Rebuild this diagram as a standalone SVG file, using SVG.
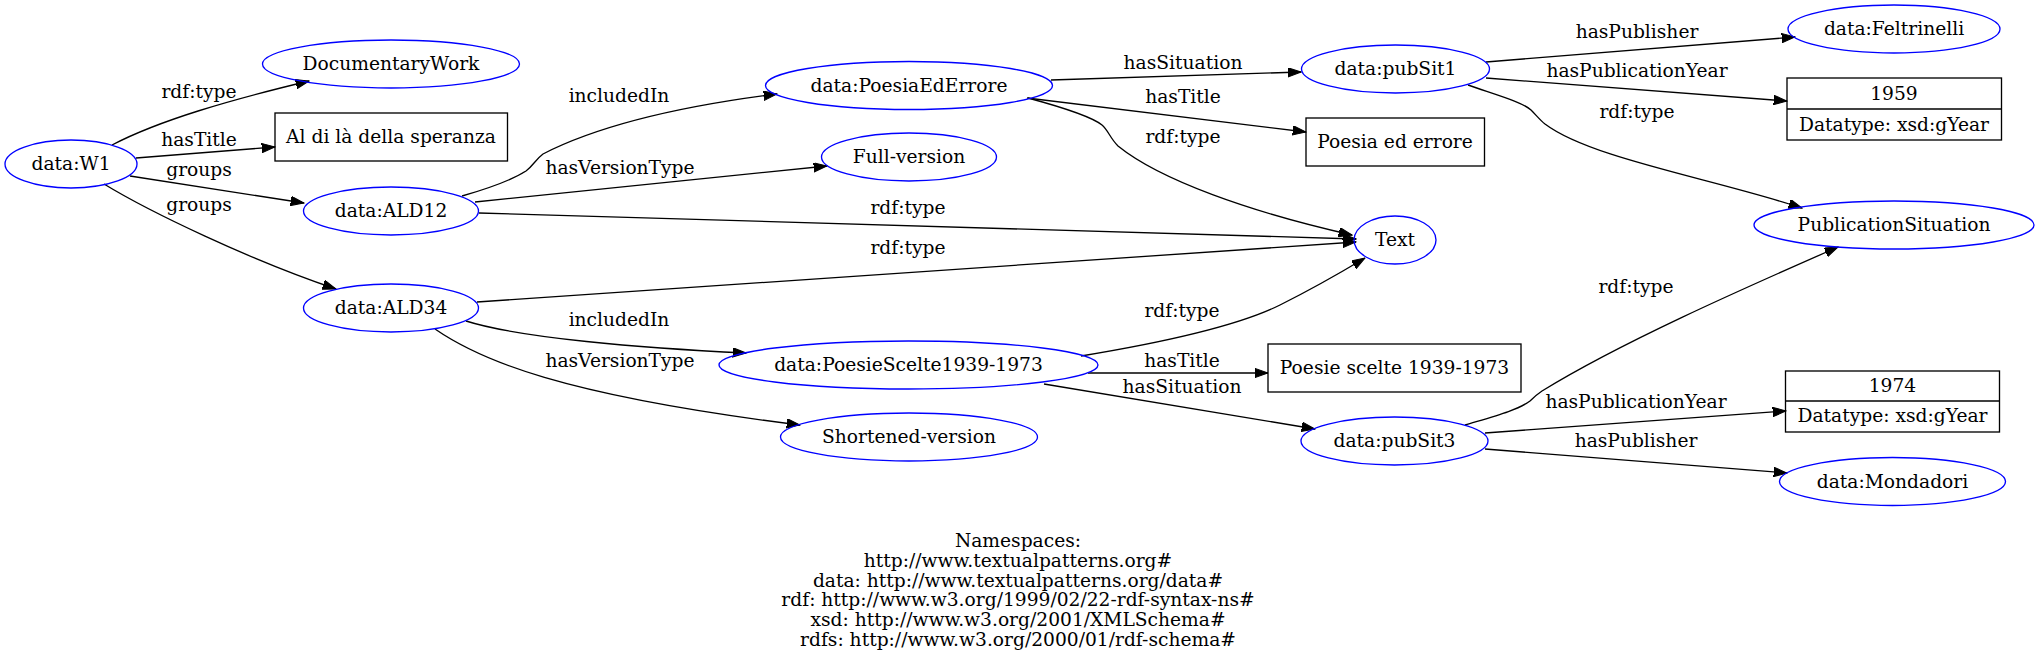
<svg xmlns="http://www.w3.org/2000/svg" width="2038" height="663" viewBox="0 0 2038 663">
<style>
text{font-family:"DejaVu Serif","Liberation Serif",serif;font-size:18.67px;fill:#000;text-anchor:middle}
.n ellipse{fill:none;stroke:#0000ff;stroke-width:1.33}
.n rect,.n line{fill:none;stroke:#000;stroke-width:1.33}
.e path{fill:none;stroke:#000;stroke-width:1.33;marker-end:url(#ah)}
</style>
<defs>
<marker id="ah" markerUnits="userSpaceOnUse" markerWidth="14" markerHeight="10" refX="13.3" refY="4.7" orient="auto">
<path d="M0,0 L13.3,4.7 L0,9.4 z" fill="#000" stroke="#000" stroke-width="1"/>
</marker>
</defs>
<rect width="2038" height="663" fill="#fff"/>
<g id="edges" class="e">
<path d="M112,145 C160,120 230,100 309,81"/>
<path d="M136,158 L275,147"/>
<path d="M130,176 L304,203"/>
<path d="M104,184 C150,212 250,260 336,289"/>
<path d="M462,196 C490,188 515,178 526,171 C533,166 535,160 543,154 C580,135 650,110 777,94"/>
<path d="M475,202 L827,166"/>
<path d="M479,213 L1356,239"/>
<path d="M477,302 L1356,242"/>
<path d="M466,321 C520,338 640,348 746,353"/>
<path d="M435,329 C480,360 560,395 800,425"/>
<path d="M1051,80 L1301,72"/>
<path d="M1027,98 L1306,132"/>
<path d="M1028,98 C1065,108 1092,117 1102,125 C1108,130 1110,138 1118,146 C1160,180 1250,212 1352,235"/>
<path d="M1486,62 L1795,37"/>
<path d="M1486,78 L1787,101"/>
<path d="M1468,85 C1500,96 1522,102 1531,110 C1537,116 1540,120 1545,124 C1590,158 1710,178 1802,208"/>
<path d="M1465,425 C1495,416 1518,410 1530,401 C1534,397 1536,395 1542,391 C1620,343 1740,290 1838,247"/>
<path d="M1485,433 L1786,411"/>
<path d="M1485,449 L1787,473"/>
<path d="M1081,356 C1160,343 1240,325 1280,305 C1320,285 1345,270 1365,258"/>
<path d="M1088,373 L1268,373"/>
<path d="M1044,384 L1315,429"/>
</g>
<g id="edge-labels">
<text x="199" y="98">rdf:type</text>
<text x="199" y="146">hasTitle</text>
<text x="199" y="176">groups</text>
<text x="199" y="211">groups</text>
<text x="619" y="102">includedIn</text>
<text x="620" y="174">hasVersionType</text>
<text x="908" y="214">rdf:type</text>
<text x="908" y="254">rdf:type</text>
<text x="619" y="326">includedIn</text>
<text x="620" y="367">hasVersionType</text>
<text x="1183" y="69">hasSituation</text>
<text x="1183" y="103">hasTitle</text>
<text x="1183" y="143">rdf:type</text>
<text x="1637" y="38">hasPublisher</text>
<text x="1637" y="77">hasPublicationYear</text>
<text x="1637" y="118">rdf:type</text>
<text x="1636" y="293">rdf:type</text>
<text x="1182" y="317">rdf:type</text>
<text x="1182" y="367">hasTitle</text>
<text x="1182" y="393">hasSituation</text>
<text x="1636" y="408">hasPublicationYear</text>
<text x="1636" y="447">hasPublisher</text>
</g>
<g id="W1" class="n"><ellipse cx="71" cy="164" rx="66" ry="24"/><text x="71" y="170">data:W1</text></g>
<g id="DocumentaryWork" class="n"><ellipse cx="391" cy="64" rx="128.5" ry="24"/><text x="391" y="70">DocumentaryWork</text></g>
<g id="AlDiLa" class="n"><rect x="275" y="113" width="232.5" height="48"/><text x="391" y="143">Al di là della speranza</text></g>
<g id="ALD12" class="n"><ellipse cx="391" cy="211" rx="87.5" ry="24"/><text x="391" y="217">data:ALD12</text></g>
<g id="ALD34" class="n"><ellipse cx="391" cy="308" rx="87.5" ry="24"/><text x="391" y="314">data:ALD34</text></g>
<g id="PoesiaEdErrore" class="n"><ellipse cx="909" cy="85.5" rx="143.5" ry="24"/><text x="909" y="91.5">data:PoesiaEdErrore</text></g>
<g id="FullVersion" class="n"><ellipse cx="909" cy="157" rx="87.5" ry="24"/><text x="909" y="163">Full-version</text></g>
<g id="Text" class="n"><ellipse cx="1395" cy="240" rx="41" ry="24"/><text x="1395" y="246">Text</text></g>
<g id="pubSit1" class="n"><ellipse cx="1395.5" cy="69" rx="94" ry="24"/><text x="1395.5" y="75">data:pubSit1</text></g>
<g id="Feltrinelli" class="n"><ellipse cx="1894" cy="29" rx="106" ry="24"/><text x="1894" y="35">data:Feltrinelli</text></g>
<g id="Y1959" class="n"><rect x="1787" y="78" width="214.5" height="62"/><line x1="1787" y1="109" x2="2001.5" y2="109"/><text x="1894" y="100">1959</text><text x="1894" y="131">Datatype: xsd:gYear</text></g>
<g id="PoesiaTitle" class="n"><rect x="1306" y="118" width="178.5" height="48"/><text x="1395" y="148">Poesia ed errore</text></g>
<g id="PublicationSituation" class="n"><ellipse cx="1894" cy="225" rx="140" ry="24"/><text x="1894" y="231">PublicationSituation</text></g>
<g id="PoesieScelte" class="n"><ellipse cx="908.5" cy="365" rx="189.5" ry="24"/><text x="908.5" y="371">data:PoesieScelte1939-1973</text></g>
<g id="Shortened" class="n"><ellipse cx="909" cy="437" rx="128.5" ry="24"/><text x="909" y="443">Shortened-version</text></g>
<g id="PoesieTitle" class="n"><rect x="1268" y="344" width="253" height="48"/><text x="1394.5" y="374">Poesie scelte 1939-1973</text></g>
<g id="pubSit3" class="n"><ellipse cx="1394.5" cy="441" rx="93.5" ry="24"/><text x="1394.5" y="447">data:pubSit3</text></g>
<g id="Y1974" class="n"><rect x="1785.5" y="371" width="214" height="61"/><line x1="1785.5" y1="401" x2="1999.5" y2="401"/><text x="1892.5" y="392">1974</text><text x="1892.5" y="422">Datatype: xsd:gYear</text></g>
<g id="Mondadori" class="n"><ellipse cx="1892.5" cy="481.5" rx="113" ry="24"/><text x="1892.5" y="487.5">data:Mondadori</text></g>
<g id="namespaces">
<text x="1018" y="547">Namespaces:</text>
<text x="1018" y="567">http://www.textualpatterns.org#</text>
<text x="1018" y="587">data: http://www.textualpatterns.org/data#</text>
<text x="1018" y="606">rdf: http://www.w3.org/1999/02/22-rdf-syntax-ns#</text>
<text x="1018" y="626">xsd: http://www.w3.org/2001/XMLSchema#</text>
<text x="1018" y="646">rdfs: http://www.w3.org/2000/01/rdf-schema#</text>
</g>
</svg>
